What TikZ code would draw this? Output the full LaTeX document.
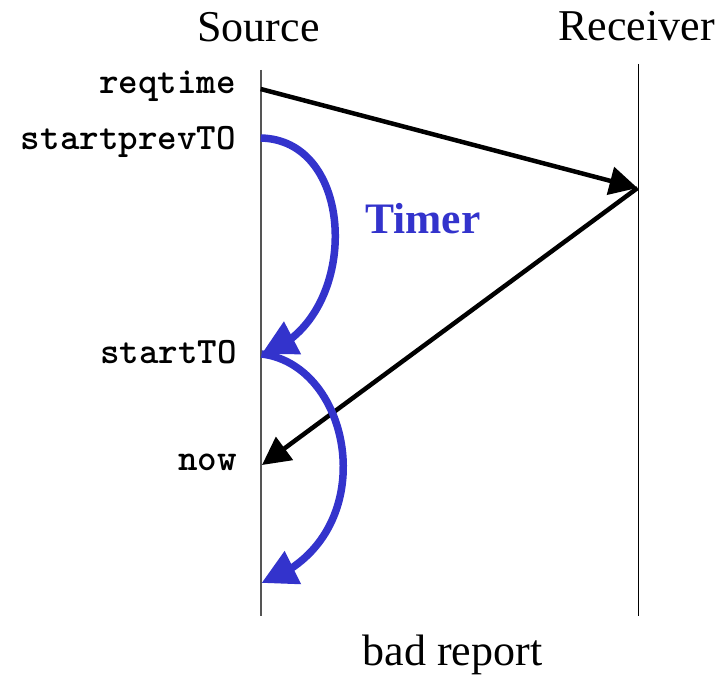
\documentclass[tikz,border=0pt]{standalone}
\usepackage{fontspec}
\setmainfont{Liberation Serif}
\usetikzlibrary{arrows.meta,bending}
\definecolor{timerblue}{HTML}{3333CC}
\definecolor{lifegrey}{HTML}{555555}
\tikzset{
  title/.style={font=\fontsize{44}{48}\selectfont, inner sep=0pt, anchor=base},
  evlabel/.style={font=\fontsize{37.2}{40}\selectfont\ttfamily\bfseries, inner sep=0pt, anchor=base east},
  msg/.style={line width=4.5pt, -{Triangle[length=28pt,width=28pt]}},
  timer/.style={line width=7.5pt, color=timerblue, -{Triangle[length=35pt,width=35pt]}},
}
\begin{document}
\begin{tikzpicture}[x=1pt,y=1pt]
\useasboundingbox (0,0) rectangle (723,-677);

% column headings
\node[title] (srcT) at (258.5,-42) {Source};
\node[title] (rcvT) at (636.5,-41) {Receiver};
\node[title] (bad) at (452.5,-665) {bad report};

% life lines
\coordinate (srcTop) at (260.7,-70);
\coordinate (srcBot) at (260.7,-616);
\coordinate (rcvTop) at (638.5,-64);
\coordinate (rcvBot) at (638.5,-616);
\draw[lifegrey, line width=1.6pt] (srcTop) -- (srcBot);
\draw[black, line width=1.6pt] (rcvTop) -- (rcvBot);

% events on the source side
\coordinate (req) at (260.7,-89);
\coordinate (prev) at (260.7,-138);
\coordinate (sto) at (261.5,-354);
\coordinate (now) at (262,-465);
\coordinate (fin) at (261.5,-583);
\coordinate (rcv) at (637.5,-188);

\node[evlabel] (lreq) at (236,-93) {reqtime};
\node[evlabel] (lprev) at (236,-149) {startprevTO};
\node[evlabel] (lsto) at (237,-363) {startTO};
\node[evlabel] (lnow) at (237,-470) {now};

% request and reply messages
\draw[msg] (req) -- (rcv);
\draw[msg] (rcv) -- (now);

% timer periods
\draw[timer] (prev) .. controls (360,-140) and (360,-325) .. (sto);
\draw[timer] (sto) .. controls (355,-365) and (385,-540) .. (fin);
\node[font=\fontsize{43.5}{46}\selectfont\bfseries, text=timerblue, inner sep=0pt, anchor=base west] (timerT) at (365,-233) {Timer};
\end{tikzpicture}
\end{document}
